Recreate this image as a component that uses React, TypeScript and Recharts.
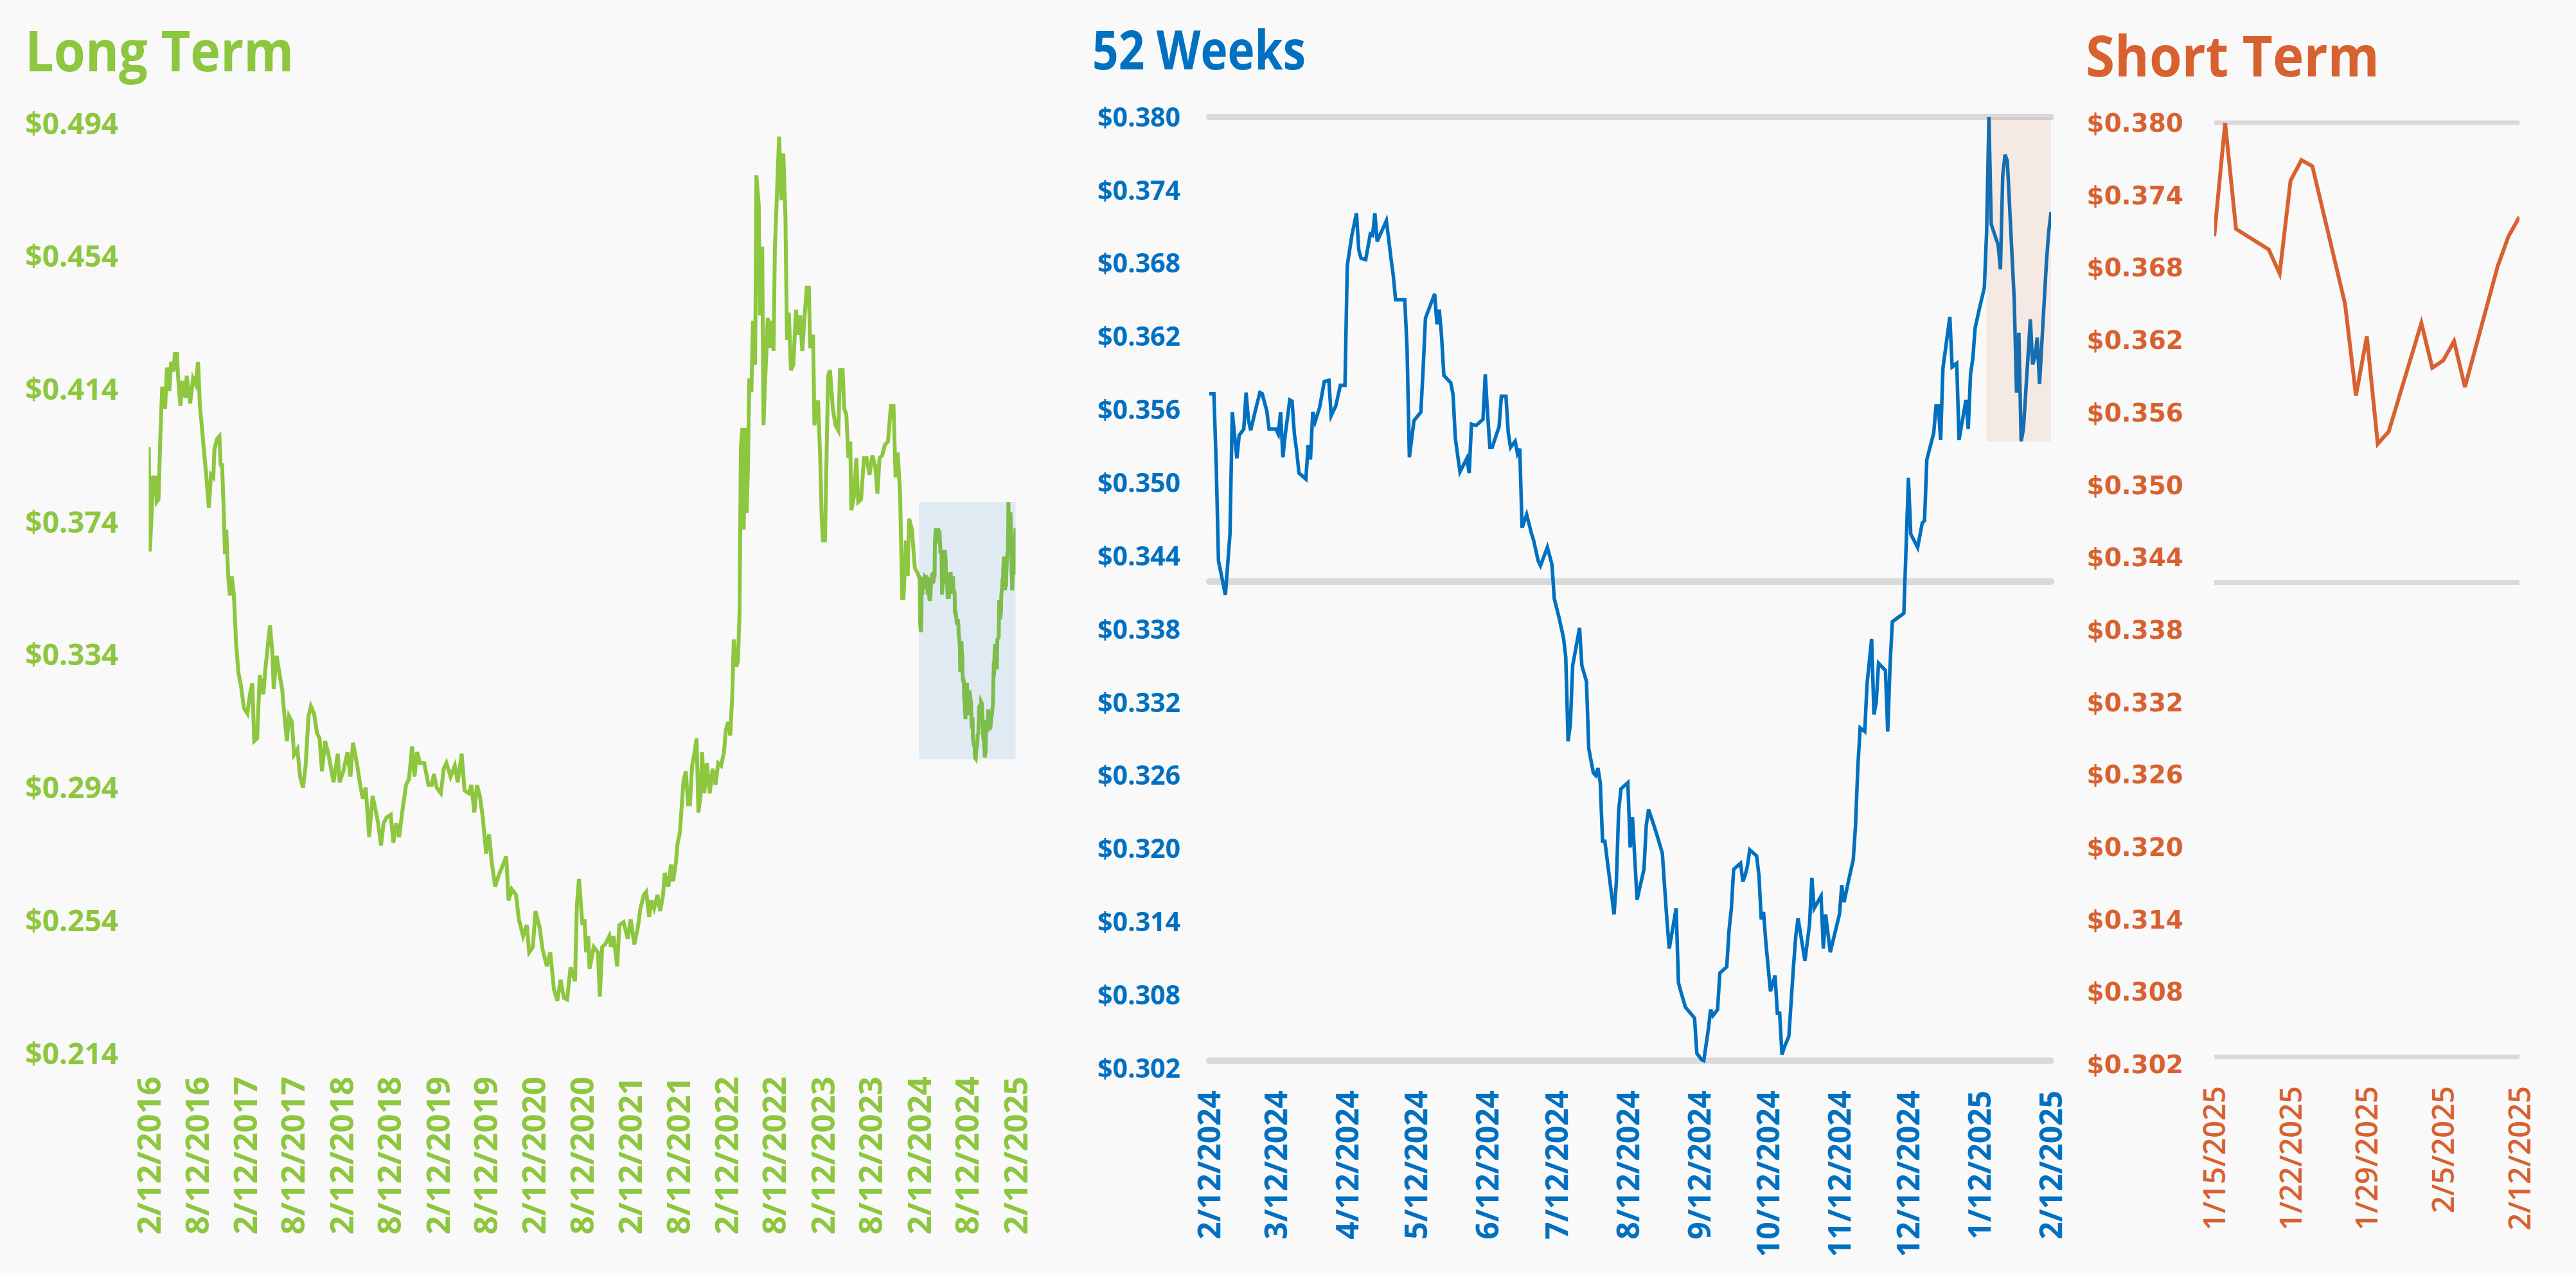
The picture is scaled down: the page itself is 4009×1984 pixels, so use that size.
import React from 'react';
import { LineChart, Line, XAxis, YAxis, ReferenceLine, ReferenceArea } from 'recharts';

const GREEN = '#8dc63f';
const BLUE = '#0070c0';
const ORANGE = '#d86130';
const GREY = '#d9d9d9';
const BG = '#f9f9f9';

// long term history up to the start of the 52 week window (the rest is taken from the series below)
const LONG_DATES = [
  '2016-02-12', '2016-02-16', '2016-02-24', '2016-02-28', '2016-03-08', '2016-03-13', '2016-03-20', '2016-03-27',
  '2016-04-03', '2016-04-14', '2016-04-21', '2016-04-30', '2016-05-07', '2016-05-16', '2016-05-21', '2016-05-29',
  '2016-06-02', '2016-06-11', '2016-06-19', '2016-06-30', '2016-07-05', '2016-07-18', '2016-07-29', '2016-08-08',
  '2016-08-17', '2016-08-24', '2016-08-29', '2016-09-09', '2016-09-16', '2016-09-27', '2016-10-05', '2016-10-14',
  '2016-10-18', '2016-10-28', '2016-11-06', '2016-11-11', '2016-11-16', '2016-11-22', '2016-11-27', '2016-12-02',
  '2016-12-10', '2016-12-16', '2016-12-23', '2016-12-31', '2017-01-08', '2017-01-17', '2017-01-27', '2017-02-07',
  '2017-02-20', '2017-03-02', '2017-03-11', '2017-03-18', '2017-03-29', '2017-04-08', '2017-04-22', '2017-04-29',
  '2017-05-10', '2017-05-17', '2017-05-26', '2017-05-31', '2017-06-11', '2017-06-21', '2017-07-02', '2017-07-09',
  '2017-07-20', '2017-07-28', '2017-08-08', '2017-08-16', '2017-08-29', '2017-09-08', '2017-09-19', '2017-09-29',
  '2017-10-10', '2017-10-19', '2017-10-31', '2017-11-11', '2017-11-21', '2017-11-30', '2017-12-12', '2017-12-25',
  '2018-01-13', '2018-01-29', '2018-02-05', '2018-02-19', '2018-03-07', '2018-03-18', '2018-03-28', '2018-04-13',
  '2018-04-24', '2018-05-04', '2018-05-15', '2018-05-28', '2018-06-10', '2018-06-21', '2018-07-01', '2018-07-12',
  '2018-07-22', '2018-08-02', '2018-08-18', '2018-08-28', '2018-09-08', '2018-09-19', '2018-09-29', '2018-10-15',
  '2018-10-26', '2018-11-07', '2018-11-16', '2018-11-26', '2018-12-07', '2018-12-23', '2019-01-08', '2019-01-20',
  '2019-01-29', '2019-02-08', '2019-02-24', '2019-03-07', '2019-03-17', '2019-04-02', '2019-04-18', '2019-04-29',
  '2019-05-14', '2019-05-25', '2019-06-10', '2019-06-20', '2019-07-01', '2019-07-11', '2019-07-22', '2019-08-02',
  '2019-08-15', '2019-08-26', '2019-09-05', '2019-09-18', '2019-10-01', '2019-10-14', '2019-10-30', '2019-11-08',
  '2019-11-20', '2019-12-06', '2019-12-17', '2020-01-02', '2020-01-16', '2020-01-25', '2020-02-08', '2020-02-18',
  '2020-03-05', '2020-03-16', '2020-04-01', '2020-04-14', '2020-04-28', '2020-05-11', '2020-05-23', '2020-06-05',
  '2020-06-17', '2020-06-30', '2020-07-17', '2020-07-24', '2020-08-01', '2020-08-14', '2020-08-22', '2020-08-28',
  '2020-09-05', '2020-09-10', '2020-09-26', '2020-10-12', '2020-10-19', '2020-10-28', '2020-11-08', '2020-11-24',
  '2020-11-30', '2020-12-10', '2020-12-24', '2021-01-01', '2021-01-17', '2021-02-02', '2021-02-13', '2021-02-27',
  '2021-03-12', '2021-03-22', '2021-04-04', '2021-04-13', '2021-04-24', '2021-05-02', '2021-05-13', '2021-05-26',
  '2021-06-05', '2021-06-16', '2021-06-22', '2021-07-06', '2021-07-16', '2021-07-24', '2021-08-04', '2021-08-09',
  '2021-08-19', '2021-09-01', '2021-09-10', '2021-09-19', '2021-09-26', '2021-10-04', '2021-10-12', '2021-10-21',
  '2021-10-28', '2021-11-05', '2021-11-11', '2021-11-19', '2021-11-29', '2021-12-10', '2021-12-21', '2022-01-01',
  '2022-01-11', '2022-01-22', '2022-02-02', '2022-02-09', '2022-02-18', '2022-02-26', '2022-03-06', '2022-03-11',
  '2022-03-20', '2022-03-27', '2022-04-02', '2022-04-07', '2022-04-13', '2022-04-18', '2022-04-23', '2022-04-29',
  '2022-05-04', '2022-05-09', '2022-05-17', '2022-05-23', '2022-05-31', '2022-06-05', '2022-06-14', '2022-06-18',
  '2022-06-27', '2022-07-02', '2022-07-07', '2022-07-13', '2022-07-18', '2022-07-27', '2022-08-03', '2022-08-09',
  '2022-08-14', '2022-08-21', '2022-08-30', '2022-09-08', '2022-09-15', '2022-09-23', '2022-09-29', '2022-10-06',
  '2022-10-14', '2022-10-23', '2022-11-02', '2022-11-11', '2022-11-18', '2022-11-26', '2022-12-05', '2022-12-13',
  '2022-12-21', '2022-12-26', '2023-01-06', '2023-01-11', '2023-01-25', '2023-02-02', '2023-02-07', '2023-02-12',
  '2023-02-20', '2023-02-26', '2023-03-04', '2023-03-11', '2023-03-22', '2023-04-01', '2023-04-12', '2023-04-18',
  '2023-04-28', '2023-05-04', '2023-05-12', '2023-05-20', '2023-05-27', '2023-05-31', '2023-06-10', '2023-06-19',
  '2023-06-26', '2023-07-07', '2023-07-18', '2023-07-28', '2023-08-08', '2023-08-19', '2023-08-30', '2023-09-07',
  '2023-09-15', '2023-09-25', '2023-10-06', '2023-10-17', '2023-10-28', '2023-11-07', '2023-11-15', '2023-11-23',
  '2023-12-02', '2023-12-10', '2023-12-15', '2023-12-24', '2023-12-31', '2024-01-05', '2024-01-16', '2024-01-27',
  '2024-02-07',
];
const LONG_VALUES = [
  0.3965, 0.3651, 0.3783, 0.3874, 0.3874, 0.38, 0.3808, 0.3998,
  0.4147, 0.4081, 0.4205, 0.4134, 0.4222, 0.4193, 0.4246, 0.4246,
  0.418, 0.4089, 0.4164, 0.4114, 0.418, 0.4097, 0.4172, 0.4155,
  0.4222, 0.4089, 0.4048, 0.3949, 0.3891, 0.3783, 0.3882, 0.3874,
  0.3957, 0.399, 0.3998, 0.3907, 0.3916, 0.3783, 0.3643, 0.3717,
  0.3568, 0.3519, 0.3576, 0.3519, 0.3378, 0.3287, 0.3246, 0.318,
  0.3163, 0.3221, 0.3254, 0.308, 0.3088, 0.3279, 0.3221, 0.3295,
  0.3378, 0.3428, 0.3345, 0.3237, 0.3337, 0.3287, 0.3237, 0.3171,
  0.308, 0.3155, 0.3138, 0.3039, 0.3056, 0.2973, 0.294, 0.3006,
  0.3155, 0.3185, 0.3163, 0.3105, 0.3088, 0.2989, 0.308, 0.3039,
  0.2956, 0.3042, 0.2956, 0.2989, 0.3047, 0.2973, 0.3075, 0.3006,
  0.2948, 0.2907, 0.294, 0.2791, 0.2915, 0.2874, 0.2833, 0.2766,
  0.2833, 0.285, 0.2858, 0.2774, 0.2833, 0.2791, 0.2858, 0.2948,
  0.2965, 0.3064, 0.2973, 0.3047, 0.3014, 0.3014, 0.2948, 0.2948,
  0.2981, 0.294, 0.2923, 0.2997, 0.3014, 0.2973, 0.3006, 0.2956,
  0.3042, 0.2931, 0.2923, 0.2948, 0.2865, 0.2948, 0.2915, 0.285,
  0.2741, 0.2799, 0.2716, 0.2642, 0.2675, 0.27, 0.2733, 0.26,
  0.2634, 0.2617, 0.2543, 0.2493, 0.2526, 0.2444, 0.246, 0.2568,
  0.2518, 0.2452, 0.2402, 0.2444, 0.2332, 0.2298, 0.2361, 0.2307,
  0.2302, 0.2399, 0.2357, 0.2585, 0.2665, 0.2526, 0.2543, 0.2444,
  0.2493, 0.2394, 0.246, 0.2444, 0.2311, 0.246, 0.2468, 0.2493,
  0.246, 0.2493, 0.2402, 0.2526, 0.2535, 0.2485, 0.2543, 0.2468,
  0.2518, 0.2576, 0.2617, 0.2626, 0.2551, 0.2601, 0.2576, 0.2617,
  0.2568, 0.2617, 0.2683, 0.2642, 0.2708, 0.2658, 0.2716, 0.2766,
  0.2807, 0.2956, 0.2989, 0.289, 0.289, 0.3006, 0.3039, 0.3088,
  0.2865, 0.2915, 0.3047, 0.2923, 0.3014, 0.2923, 0.2997, 0.2948,
  0.3014, 0.3006, 0.3047, 0.3113, 0.3138, 0.3097, 0.3229, 0.3386,
  0.3304, 0.332, 0.3469, 0.3965, 0.4023, 0.3717, 0.4023, 0.3767,
  0.3907, 0.4172, 0.4131, 0.4346, 0.4213, 0.4784, 0.4693, 0.4362,
  0.4569, 0.4031, 0.4147, 0.4255, 0.4354, 0.4263, 0.4346, 0.4255,
  0.4561, 0.4709, 0.49, 0.4709, 0.485, 0.466, 0.4288, 0.437,
  0.4197, 0.4213, 0.4379, 0.4304, 0.4362, 0.4255, 0.4362, 0.4445,
  0.4445, 0.4263, 0.4304, 0.4031, 0.4106, 0.3932, 0.3767, 0.3684,
  0.3684, 0.3932, 0.418, 0.4197, 0.4081, 0.4031, 0.4015, 0.4197,
  0.4197, 0.4081, 0.4064, 0.3932, 0.3982, 0.3775, 0.3816, 0.3932,
  0.38, 0.3808, 0.3932, 0.3932, 0.3882, 0.394, 0.3907, 0.3825,
  0.3932, 0.394, 0.3973, 0.3982, 0.4089, 0.4089, 0.3874, 0.3949,
  0.3825, 0.351, 0.351, 0.3684, 0.3577, 0.375, 0.3717, 0.3601,
  0.3585,
];

// 52 week window up to the start of the short term window
const WEEK52_DATES = [
  '2024-02-12', '2024-02-14', '2024-02-15', '2024-02-16', '2024-02-19', '2024-02-21', '2024-02-22', '2024-02-24',
  '2024-02-25', '2024-02-27', '2024-02-28', '2024-02-29', '2024-03-01', '2024-03-03', '2024-03-05', '2024-03-06',
  '2024-03-08', '2024-03-09', '2024-03-12', '2024-03-13', '2024-03-14', '2024-03-15', '2024-03-16', '2024-03-18',
  '2024-03-19', '2024-03-20', '2024-03-21', '2024-03-22', '2024-03-25', '2024-03-26', '2024-03-27', '2024-03-28',
  '2024-03-29', '2024-03-31', '2024-04-02', '2024-04-04', '2024-04-05', '2024-04-07', '2024-04-09', '2024-04-11',
  '2024-04-12', '2024-04-14', '2024-04-16', '2024-04-17', '2024-04-18', '2024-04-20', '2024-04-22', '2024-04-23',
  '2024-04-24', '2024-04-25', '2024-04-29', '2024-04-30', '2024-05-01', '2024-05-02', '2024-05-03', '2024-05-07',
  '2024-05-08', '2024-05-09', '2024-05-11', '2024-05-14', '2024-05-15', '2024-05-16', '2024-05-17', '2024-05-20',
  '2024-05-21', '2024-05-22', '2024-05-23', '2024-05-24', '2024-05-27', '2024-05-28', '2024-05-29', '2024-05-31',
  '2024-06-03', '2024-06-04', '2024-06-05', '2024-06-07', '2024-06-10', '2024-06-11', '2024-06-12', '2024-06-13',
  '2024-06-14', '2024-06-17', '2024-06-18', '2024-06-20', '2024-06-21', '2024-06-22', '2024-06-24', '2024-06-25',
  '2024-06-26', '2024-06-27', '2024-06-29', '2024-07-01', '2024-07-02', '2024-07-04', '2024-07-05', '2024-07-08',
  '2024-07-10', '2024-07-11', '2024-07-13', '2024-07-15', '2024-07-16', '2024-07-17', '2024-07-18', '2024-07-19',
  '2024-07-22', '2024-07-23', '2024-07-25', '2024-07-26', '2024-07-28', '2024-07-29', '2024-07-30', '2024-07-31',
  '2024-08-01', '2024-08-02', '2024-08-06', '2024-08-07', '2024-08-08', '2024-08-09', '2024-08-12', '2024-08-13',
  '2024-08-14', '2024-08-16', '2024-08-19', '2024-08-20', '2024-08-21', '2024-08-23', '2024-08-25', '2024-08-27',
  '2024-08-28', '2024-08-29', '2024-08-30', '2024-09-02', '2024-09-03', '2024-09-04', '2024-09-06', '2024-09-10',
  '2024-09-11', '2024-09-13', '2024-09-14', '2024-09-16', '2024-09-17', '2024-09-18', '2024-09-20', '2024-09-21',
  '2024-09-24', '2024-09-25', '2024-09-26', '2024-09-27', '2024-09-30', '2024-10-01', '2024-10-02', '2024-10-03',
  '2024-10-04', '2024-10-07', '2024-10-08', '2024-10-09', '2024-10-10', '2024-10-11', '2024-10-13', '2024-10-15',
  '2024-10-16', '2024-10-17', '2024-10-18', '2024-10-19', '2024-10-21', '2024-10-23', '2024-10-24', '2024-10-25',
  '2024-10-28', '2024-10-30', '2024-10-31', '2024-11-01', '2024-11-04', '2024-11-05', '2024-11-06', '2024-11-08',
  '2024-11-12', '2024-11-13', '2024-11-14', '2024-11-16', '2024-11-18', '2024-11-19', '2024-11-20', '2024-11-21',
  '2024-11-23', '2024-11-24', '2024-11-26', '2024-11-27', '2024-11-28', '2024-11-29', '2024-12-02', '2024-12-03',
  '2024-12-04', '2024-12-05', '2024-12-10', '2024-12-12', '2024-12-13', '2024-12-16', '2024-12-18', '2024-12-19',
  '2024-12-20', '2024-12-23', '2024-12-24', '2024-12-25', '2024-12-26', '2024-12-27', '2024-12-30', '2024-12-31',
  '2025-01-02', '2025-01-03', '2025-01-06', '2025-01-07', '2025-01-08', '2025-01-09', '2025-01-10', '2025-01-12',
  '2025-01-14',
];
const WEEK52_VALUES = [
  0.3573, 0.3573, 0.3516, 0.3436, 0.3408, 0.3458, 0.3558, 0.352,
  0.3539, 0.3544, 0.3574, 0.3552, 0.3543, 0.3559, 0.3574, 0.3573,
  0.3559, 0.3544, 0.3544, 0.354, 0.3558, 0.3521, 0.3539, 0.3568,
  0.3567, 0.354, 0.3526, 0.3508, 0.3503, 0.3531, 0.3519, 0.3558,
  0.355, 0.3562, 0.3583, 0.3584, 0.3555, 0.3563, 0.358, 0.358,
  0.3678, 0.3703, 0.3721, 0.3691, 0.3684, 0.3683, 0.3704, 0.3703,
  0.3721, 0.3698, 0.3715, 0.37, 0.3684, 0.367, 0.365, 0.365,
  0.361, 0.3521, 0.3551, 0.3558, 0.3594, 0.3635, 0.364, 0.3655,
  0.363, 0.3642, 0.362, 0.3588, 0.3582, 0.3572, 0.3536, 0.3509,
  0.352, 0.3508, 0.3548, 0.3547, 0.3552, 0.3589, 0.3557, 0.3529,
  0.3529, 0.3546, 0.3571, 0.3571, 0.3541, 0.3529, 0.3534, 0.3524,
  0.3528, 0.3463, 0.3474, 0.3459, 0.3453, 0.3436, 0.3432, 0.3447,
  0.3433, 0.3405, 0.339, 0.3373, 0.3357, 0.3288, 0.3302, 0.335,
  0.3381, 0.335, 0.3337, 0.3282, 0.3262, 0.326, 0.3266, 0.3254,
  0.3206, 0.3206, 0.3146, 0.3173, 0.3231, 0.3249, 0.3254, 0.3201,
  0.3226, 0.3158, 0.3183, 0.3219, 0.3232, 0.3221, 0.3209, 0.3196,
  0.3168, 0.3141, 0.3118, 0.3151, 0.309, 0.3083, 0.307, 0.3061,
  0.3032, 0.3027, 0.3026, 0.3052, 0.3068, 0.3063, 0.3068, 0.3098,
  0.3103, 0.3133, 0.3151, 0.3183, 0.3188, 0.3173, 0.3178, 0.3186,
  0.3199, 0.3194, 0.3178, 0.3142, 0.3148, 0.3123, 0.3083, 0.3096,
  0.3065, 0.3065, 0.3031, 0.3037, 0.3046, 0.3103, 0.3128, 0.3143,
  0.3108, 0.3138, 0.3176, 0.3151, 0.3161, 0.3118, 0.3146, 0.3115,
  0.3146, 0.317, 0.3156, 0.3174, 0.3191, 0.3219, 0.3267, 0.3299,
  0.3296, 0.3335, 0.3372, 0.331, 0.332, 0.3352, 0.3346, 0.3296,
  0.335, 0.3386, 0.3393, 0.3504, 0.3458, 0.3447, 0.3467, 0.3469,
  0.3519, 0.3541, 0.3563, 0.3563, 0.3535, 0.3594, 0.3636, 0.3595,
  0.3598, 0.3535, 0.3568, 0.3544, 0.3589, 0.3602, 0.3627, 0.3644,
  0.366,
];

const SHORT_DATES = [
  '2025-01-15', '2025-01-16', '2025-01-17', '2025-01-20', '2025-01-21', '2025-01-22', '2025-01-23',
  '2025-01-24', '2025-01-27', '2025-01-28', '2025-01-29', '2025-01-30', '2025-01-31', '2025-02-03',
  '2025-02-04', '2025-02-05', '2025-02-06', '2025-02-07', '2025-02-10', '2025-02-11', '2025-02-12',
];
const SHORT_VALUES = [
  0.3706, 0.38, 0.3712, 0.3695, 0.3675, 0.3752, 0.3769,
  0.3764, 0.365, 0.3574, 0.3623, 0.3534, 0.3544, 0.3634,
  0.3597, 0.3603, 0.3619, 0.3581, 0.3681, 0.3706, 0.3722,
];

// 52 week average line
const WEEK52_AVG = 0.3419;

const LONG_X_TICKS = [
  '2/12/2016', '8/12/2016', '2/12/2017', '8/12/2017', '2/12/2018', '8/12/2018', '2/12/2019', '8/12/2019',
  '2/12/2020', '8/12/2020', '2/12/2021', '8/12/2021', '2/12/2022', '8/12/2022', '2/12/2023', '8/12/2023',
  '2/12/2024', '8/12/2024', '2/12/2025',
];
const WEEK52_X_TICKS = [
  '2/12/2024', '3/12/2024', '4/12/2024', '5/12/2024', '6/12/2024', '7/12/2024', '8/12/2024',
  '9/12/2024', '10/12/2024', '11/12/2024', '12/12/2024', '1/12/2025', '2/12/2025',
];
const SHORT_X_TICKS = ['1/15/2025', '1/22/2025', '1/29/2025', '2/5/2025', '2/12/2025'];

const LONG_Y_TICKS = [0.214, 0.254, 0.294, 0.334, 0.374, 0.414, 0.454, 0.494];
const NEAR_Y_TICKS = [0.302, 0.308, 0.314, 0.32, 0.326, 0.332, 0.338, 0.344, 0.35, 0.356, 0.362, 0.368, 0.374, 0.38];

const DAY = 86400000;
const isoDay = (s: string) => {
  const [y, m, d] = s.split('-').map(Number);
  return Date.UTC(y, m - 1, d) / DAY;
};
const usDay = (s: string) => {
  const [m, d, y] = s.split('/').map(Number);
  return Date.UTC(y, m - 1, d) / DAY;
};
const usLabel = (t: number) => {
  const dt = new Date(t * DAY);
  return `${dt.getUTCMonth() + 1}/${dt.getUTCDate()}/${dt.getUTCFullYear()}`;
};

type Row = { t: number; v: number };
const toRows = (dates: string[], values: number[]): Row[] => dates.map((d, i) => ({ t: isoDay(d), v: values[i] }));

const shortRows = toRows(SHORT_DATES, SHORT_VALUES);
const week52Rows = [...toRows(WEEK52_DATES, WEEK52_VALUES), ...shortRows];
const longRows = [...toRows(LONG_DATES, LONG_VALUES), ...week52Rows];

const w52 = week52Rows.map((r) => r.v);
const w52Max = Math.max(...w52);
const w52Min = Math.min(...w52);
const shortMax = Math.max(...SHORT_VALUES);
const shortMin = Math.min(...SHORT_VALUES);

type Font = { family: string; size: number; weight: number };

const H = 1984;

interface PanelProps {
  left: number;
  width: number;
  plotLeft: number;
  plotRight: number;
  plotTop: number;
  plotBottom: number;
  rows: Row[];
  color: string;
  lineWidth: number;
  xTicks: string[];
  yTicks: number[];
  yLabelRight: number;
  yFont: Font;
  xLabelTop: number;
  xFont: Font;
  under?: React.ReactNode[];
  over?: React.ReactNode[];
}

function Panel(p: PanelProps) {
  const xs = p.xTicks.map(usDay);
  const yTick = (props: any) => (
    <text
      x={p.yLabelRight}
      y={props.y}
      dy="0.36em"
      textAnchor="end"
      fill={p.color}
      fontFamily={p.yFont.family}
      fontSize={p.yFont.size}
      fontWeight={p.yFont.weight}
    >
      {'$' + Number(props.payload.value).toFixed(3)}
    </text>
  );
  const xTick = (props: any) => (
    <text
      x={props.x}
      y={p.xLabelTop}
      dy="0.36em"
      textAnchor="end"
      transform={`rotate(-90, ${props.x}, ${p.xLabelTop})`}
      fill={p.color}
      fontFamily={p.xFont.family}
      fontSize={p.xFont.size}
      fontWeight={p.xFont.weight}
    >
      {usLabel(props.payload.value)}
    </text>
  );
  return (
    <div style={{ position: 'absolute', left: p.left, top: 0 }}>
      <LineChart
        width={p.width}
        height={H}
        data={p.rows}
        margin={{ top: p.plotTop, right: p.width - p.plotRight, bottom: 4, left: 0 }}
      >
        <XAxis
          type="number"
          dataKey="t"
          domain={[xs[0], xs[xs.length - 1]]}
          ticks={xs}
          interval={0}
          allowDataOverflow
          axisLine={false}
          tickLine={false}
          height={H - p.plotBottom - 4}
          tick={xTick}
        />
        <YAxis
          type="number"
          domain={[p.yTicks[0], p.yTicks[p.yTicks.length - 1]]}
          ticks={p.yTicks}
          interval={0}
          allowDataOverflow
          axisLine={false}
          tickLine={false}
          width={p.plotLeft}
          tick={yTick}
        />
        {p.under}
        <Line
          type="linear"
          dataKey="v"
          stroke={p.color}
          strokeWidth={p.lineWidth}
          dot={false}
          activeDot={false}
          isAnimationActive={false}
        />
        {p.over}
      </LineChart>
    </div>
  );
}

const OPEN = 'Open Sans, Noto Sans, sans-serif';

export default function App() {
  const refLines = (width: number, cap: 'round' | 'butt') =>
    [w52Max, WEEK52_AVG, w52Min].map((y, i) => (
      <ReferenceLine key={'r' + i} y={y} stroke={GREY} strokeWidth={width} strokeLinecap={cap} zIndex={50} />
    ));

  return (
    <div style={{ position: 'absolute', left: 0, top: 0, width: 4009, height: H, background: BG, overflow: 'hidden' }}>
      <svg width={4009} height={160} style={{ position: 'absolute', left: 0, top: 0 }}>
        <text x={39} y={111} fill={GREEN} fontFamily={OPEN} fontWeight={700} fontSize={88} textLength={418} lengthAdjust="spacingAndGlyphs">
          Long Term
        </text>
        <text x={1700} y={108} fill={BLUE} fontFamily={OPEN} fontWeight={700} fontSize={85} textLength={332} lengthAdjust="spacingAndGlyphs">
          52 Weeks
        </text>
        <text x={3246} y={119} fill={ORANGE} fontFamily={OPEN} fontWeight={700} fontSize={88} textLength={457} lengthAdjust="spacingAndGlyphs">
          Short Term
        </text>
      </svg>

      <Panel
        left={0}
        width={1660}
        plotLeft={231.5}
        plotRight={1580.5}
        plotTop={192}
        plotBottom={1639}
        rows={longRows}
        color={GREEN}
        lineWidth={6}
        xTicks={LONG_X_TICKS}
        yTicks={LONG_Y_TICKS}
        yLabelRight={184}
        yFont={{ family: OPEN, size: 46, weight: 700 }}
        xLabelTop={1675}
        xFont={{ family: OPEN, size: 51, weight: 700 }}
        over={[
          <ReferenceArea
            key="a"
            x1={week52Rows[0].t}
            x2={week52Rows[week52Rows.length - 1].t}
            y1={w52Min}
            y2={w52Max}
            fill={BLUE}
            fillOpacity={0.1}
            stroke="none"
            ifOverflow="visible"
            zIndex={600}
          />,
        ]}
      />

      <Panel
        left={1600}
        width={1700}
        plotLeft={282}
        plotRight={1592}
        plotTop={182}
        plotBottom={1662}
        rows={week52Rows}
        color={BLUE}
        lineWidth={5.5}
        xTicks={WEEK52_X_TICKS}
        yTicks={NEAR_Y_TICKS}
        yLabelRight={237}
        yFont={{ family: OPEN, size: 41, weight: 700 }}
        xLabelTop={1697}
        xFont={{ family: OPEN, size: 48, weight: 700 }}
        under={refLines(10, 'round')}
        over={[
          <ReferenceArea
            key="a"
            x1={shortRows[0].t}
            x2={shortRows[shortRows.length - 1].t}
            y1={shortMin}
            y2={shortMax}
            fill={ORANGE}
            fillOpacity={0.1}
            stroke="none"
            ifOverflow="visible"
            zIndex={600}
          />,
        ]}
      />

      <Panel
        left={3200}
        width={809}
        plotLeft={246}
        plotRight={721}
        plotTop={191}
        plotBottom={1656}
        rows={shortRows}
        color={ORANGE}
        lineWidth={6}
        xTicks={SHORT_X_TICKS}
        yTicks={NEAR_Y_TICKS}
        yLabelRight={198}
        yFont={{ family: 'DejaVu Sans, Verdana, sans-serif', size: 39, weight: 700 }}
        xLabelTop={1690}
        xFont={{ family: OPEN, size: 47, weight: 600 }}
        under={refLines(7, 'butt')}
      />
    </div>
  );
}
